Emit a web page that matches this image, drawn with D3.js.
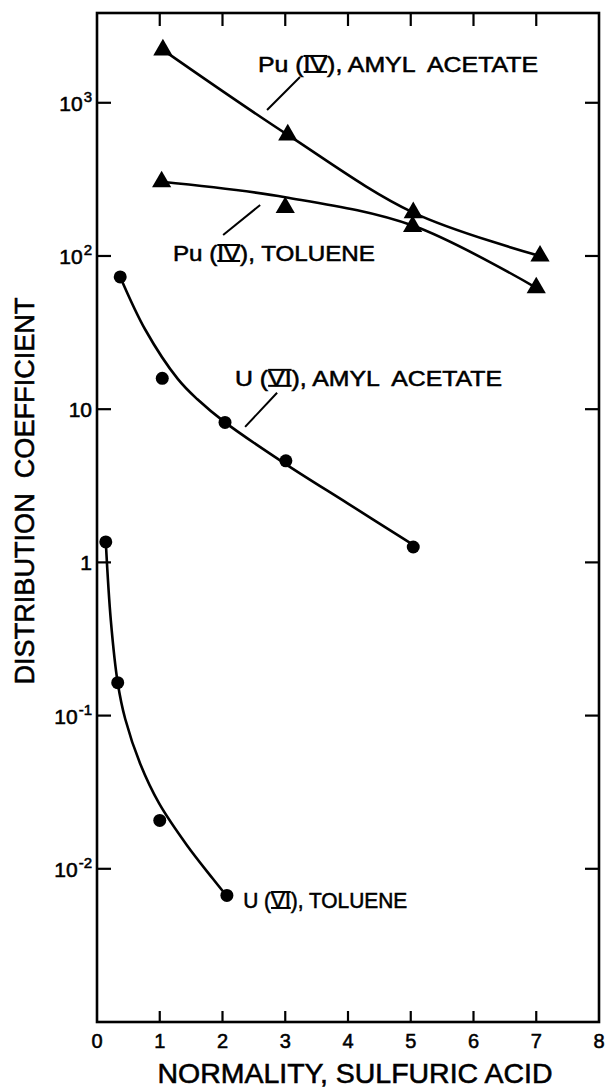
<!DOCTYPE html>
<html>
<head>
<meta charset="utf-8">
<script src="https://cdn.jsdelivr.net/npm/d3@7/dist/d3.min.js"></script>
<style>
  html, body { margin: 0; padding: 0; background: #fff; }
  svg { display: block; }
  text { font-family: "Liberation Sans", Arial, sans-serif; fill: #000; white-space: pre; stroke: #000; stroke-width: 0.55; }
</style>
</head>
<body>
<svg id="chart" width="607" height="1089"></svg>
<script>
// ---------------- DATA ----------------
const xTickValues = [0, 1, 2, 3, 4, 5, 6, 7, 8];
const xTickLabels = ["0", "1", "2", "3", "4", "5", "6", "7", "8"];
const yTickValues = [1e-2, 1e-1, 1, 10, 1e2, 1e3];
const yTickBase = ["10", "10", "1", "10", "10", "10"];
const yTickExp = ["-2", "-1", "", "", "2", "3"];

// measured points (normality, distribution coefficient)
const puAmylN = [1.05, 3.04, 5.04, 7.06];
const puAmylD = [2215, 617, 192, 100];
const puTolN = [1.03, 3.0, 5.03, 7.0];
const puTolD = [305, 207, 156, 62];
const uAmylN = [0.37, 1.04, 2.04, 3.01, 5.04];
const uAmylD = [73, 15.9, 8.2, 4.6, 1.26];
const uTolN = [0.14, 0.33, 1.0, 2.07];
const uTolD = [1.36, 0.164, 0.0207, 0.0067];

// hand-drawn smooth curves
const puAmylCurveN = [1.05, 3.04, 5.04, 7.06];
const puAmylCurveD = [2215, 617, 192, 100];
const puTolCurveN = [1.03, 3.0, 5.03, 7.0];
const puTolCurveD = [305, 242, 158, 62];
const uAmylCurveN = [0.37, 0.77, 1.29, 1.6, 2.04, 3.0, 4.0, 5.04];
const uAmylCurveD = [73, 33, 15.7, 11.6, 8.2, 4.4, 2.42, 1.3];
const uTolCurveN = [0.14, 0.22, 0.33, 0.45, 0.69, 0.99, 1.43, 1.85, 2.06];
const uTolCurveD = [1.36, 0.42, 0.164, 0.095, 0.0483, 0.0267, 0.0143, 0.00857, 0.0067];

const xTitle = "NORMALITY, SULFURIC ACID";
const yTitle = "DISTRIBUTION  COEFFICIENT";

// series labels: [before, roman, after]
const labelParts = [
  ["Pu (", "IV", "), AMYL  ACETATE"],
  ["Pu (", "IV", "), TOLUENE"],
  ["U (", "VI", "), AMYL  ACETATE"],
  ["U (", "VI", "), TOLUENE"]
];

// ---------------- LAYOUT ----------------
const svg = d3.select("#chart");
const x = d3.scaleLinear().domain([0, 8]).range([97, 599]);
const y = d3.scaleLog().domain([1e-3, Math.pow(10, 3.586)]).range([1022, 13]);

const labelLayout = [
  { N: 2.566, D: 1589, w: 280, leader: [[2.71, 897], [3.235, 1473]] },
  { N: 1.21, D: 92.7, w: 202, leader: [[2.01, 137], [2.60, 215]] },
  { N: 2.20, D: 14.2, w: 267, leader: [[2.36, 7.66], [2.87, 12.8]] },
  { N: 2.33, D: 0.00555, w: 164, leader: null }
];

const ink = "#000";
const axisW = 2.6, curveW = 2.6;

// frame
const [x0, x1] = x.range();
const yb = y.range()[0], yt = y.range()[1];
svg.append("rect").attr("x", x0).attr("y", yt).attr("width", x1 - x0).attr("height", yb - yt)
  .attr("fill", "none").attr("stroke", ink).attr("stroke-width", axisW);

// x ticks (inside, bottom and top)
const xInner = xTickValues.filter(v => v > 0 && v < 8);
svg.append("g").selectAll("line.b").data(xInner).join("line")
  .attr("x1", d => x(d)).attr("x2", d => x(d)).attr("y1", yb).attr("y2", yb - 11)
  .attr("stroke", ink).attr("stroke-width", 2.2);
svg.append("g").selectAll("line.t").data(xInner).join("line")
  .attr("x1", d => x(d)).attr("x2", d => x(d)).attr("y1", yt).attr("y2", yt + 13)
  .attr("stroke", ink).attr("stroke-width", 2.2);
svg.append("g").selectAll("text").data(xTickValues).join("text")
  .attr("x", d => x(d)).attr("y", yb + 26).attr("text-anchor", "middle")
  .attr("font-size", 20).text((d, i) => xTickLabels[i]);

// y ticks (inside, left and right)
svg.append("g").selectAll("line").data(yTickValues).join("line")
  .attr("x1", x0).attr("x2", x0 + 14).attr("y1", d => y(d)).attr("y2", d => y(d))
  .attr("stroke", ink).attr("stroke-width", 2.2);
svg.append("g").selectAll("line").data(yTickValues).join("line")
  .attr("x1", x1).attr("x2", x1 - 14).attr("y1", d => y(d)).attr("y2", d => y(d))
  .attr("stroke", ink).attr("stroke-width", 2.2);
const yl = svg.append("g").selectAll("text").data(yTickValues).join("text")
  .attr("x", x0 - 5).attr("y", d => y(d) + 8).attr("text-anchor", "end").attr("font-size", 21);
yl.append("tspan").text((d, i) => yTickBase[i]);
yl.append("tspan").attr("font-size", 15).attr("dy", -9).attr("dx", 1).text((d, i) => yTickExp[i]);

// axis titles
svg.append("text").attr("x", 355).attr("y", 1083).attr("text-anchor", "middle")
  .attr("font-size", 27).attr("textLength", 395).attr("lengthAdjust", "spacingAndGlyphs").text(xTitle);
svg.append("text").attr("transform", "translate(34,491) rotate(-90)").attr("text-anchor", "middle")
  .attr("font-size", 27).attr("textLength", 387).attr("lengthAdjust", "spacingAndGlyphs").text(yTitle);

// curves
const line = d3.line().x(d => x(d[0])).y(d => y(d[1])).curve(d3.curveCatmullRom.alpha(0.5));
const curves = [
  d3.zip(puAmylCurveN, puAmylCurveD),
  d3.zip(puTolCurveN, puTolCurveD),
  d3.zip(uAmylCurveN, uAmylCurveD),
  d3.zip(uTolCurveN, uTolCurveD)
];
svg.append("g").selectAll("path").data(curves).join("path")
  .attr("d", line).attr("fill", "none").attr("stroke", ink).attr("stroke-width", curveW)
  .attr("stroke-linecap", "round");

// markers
const tri = d3.symbol().type(d3.symbolTriangle).size(160);
const triPts = d3.zip(puAmylN, puAmylD).concat(d3.zip(puTolN, puTolD));
svg.append("g").selectAll("path").data(triPts).join("path")
  .attr("d", tri).attr("transform", d => `translate(${x(d[0])},${y(d[1])})`).attr("fill", ink);
const circPts = d3.zip(uAmylN, uAmylD).concat(d3.zip(uTolN, uTolD));
svg.append("g").selectAll("circle").data(circPts).join("circle")
  .attr("cx", d => x(d[0])).attr("cy", d => y(d[1])).attr("r", 6.5).attr("fill", ink);

// series labels with barred roman numerals
labelParts.forEach((parts, i) => {
  const L = labelLayout[i];
  const tx = x(L.N), ty = y(L.D);
  const t = svg.append("text").attr("x", tx).attr("y", ty).attr("font-size", 22)
    .attr("textLength", L.w).attr("lengthAdjust", "spacingAndGlyphs");
  t.append("tspan").text(parts[0]);
  t.append("tspan").text(parts[1]);
  t.append("tspan").text(parts[2]);
  const n = t.node();
  const i0 = parts[0].length, i1 = i0 + parts[1].length - 1;
  try {
    const a = n.getExtentOfChar(i0), b = n.getExtentOfChar(i1);
    const xa = a.x, xb = b.x + b.width;
    const top = ty - 16;
    [top, ty].forEach(yy => {
      svg.append("line").attr("x1", xa).attr("x2", xb).attr("y1", yy).attr("y2", yy)
        .attr("stroke", ink).attr("stroke-width", 2);
    });
  } catch (e) {}
  if (L.leader) {
    svg.append("line")
      .attr("x1", x(L.leader[0][0])).attr("y1", y(L.leader[0][1]))
      .attr("x2", x(L.leader[1][0])).attr("y2", y(L.leader[1][1]))
      .attr("stroke", ink).attr("stroke-width", 2);
  }
});
</script>
</body>
</html>
